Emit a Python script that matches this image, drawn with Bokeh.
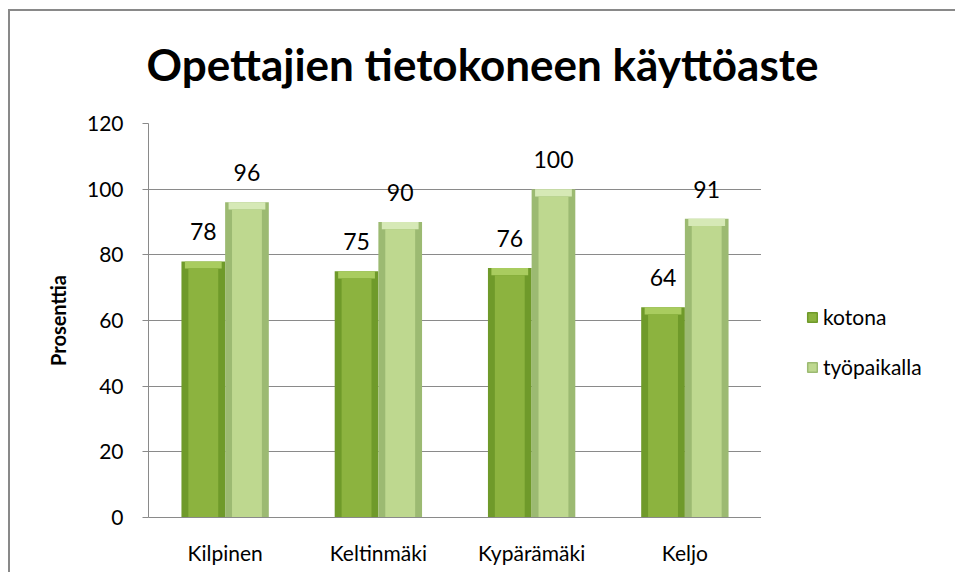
from bokeh.plotting import figure
from bokeh.layouts import row, column
from bokeh.models import ColumnDataSource, Legend, LegendItem, FactorRange, LabelSet, Label, FixedTicker
from bokeh.transform import dodge
from bokeh.core.properties import value
from bokeh.embed import file_html
from bokeh.resources import INLINE

categories = ["Kilpinen", "Keltinmäki", "Kypärämäki", "Keljo"]
kotona = [78, 75, 76, 64]
tyopaikalla = [96, 90, 100, 91]
series_names = ["kotona", "työpaikalla"]
y_ticks = [0, 20, 40, 60, 80, 100, 120]
title_text = "Opettajien tietokoneen käyttöaste"

FONT = "Lato"
BW = 0.285
BEV_X = 0.045
BEV_Y = 2.2

src = ColumnDataSource(dict(
    cat=categories,
    kotona=kotona,
    tyo=tyopaikalla,
    kotona_in=[v - BEV_Y for v in kotona],
    tyo_in=[v - BEV_Y for v in tyopaikalla],
    kotona_lbl=[str(v) for v in kotona],
    tyo_lbl=[str(v) for v in tyopaikalla],
))

# title strip
tf = figure(width=945, height=100, x_range=(0, 1), y_range=(0, 1),
            output_backend="svg", toolbar_location=None, min_border=0, outline_line_color=None)
tf.axis.visible = False
tf.grid.visible = False
tf.add_layout(Label(x=136, y=48, x_units="screen", y_units="screen", text=title_text,
                    text_font=FONT, text_font_size="44px", text_font_style="bold",
                    text_color="#000000", text_baseline="alphabetic", text_align="left"))

p = figure(frame_width=613, frame_height=394, x_range=FactorRange(*categories), y_range=(0, 120),
           output_backend="svg", toolbar_location=None,
           min_border_left=138, min_border_right=0, min_border_top=12, min_border_bottom=55)

series = [
    ("kotona", "kotona_in", -BW / 2, "#6f9a2a", "#a9cc5f", "#8cb33f"),
    ("tyo", "tyo_in", BW / 2, "#9cba72", "#d6e9b6", "#bed88f"),
]
legend_colors = []
for col, col_in, off, edge, top, face in series:
    x = dodge("cat", off, range=p.x_range)
    p.vbar(x=x, top=col, bottom=0, width=BW, source=src, fill_color=edge, line_color=None)
    p.vbar(x=x, top=col, bottom=col_in, width=BW - BEV_X, source=src, fill_color=top, line_color=None)
    p.vbar(x=x, top=col_in, bottom=0, width=BW - 2 * BEV_X, source=src, fill_color=face, line_color=None)
    legend_colors.append((edge, face))

for col, lbl, off in [("kotona", "kotona_lbl", -BW / 2), ("tyo", "tyo_lbl", BW / 2)]:
    ls = LabelSet(x=dodge("cat", off, range=p.x_range), y=col, text=lbl, source=src,
                  text_align="center", text_baseline="bottom", y_offset=21,
                  text_font=value(FONT), text_font_size="23px", text_color="#000000")
    p.add_layout(ls)

p.xgrid.grid_line_color = None
p.ygrid.grid_line_color = "#8a8a8a"
p.ygrid.grid_line_width = 1
p.yaxis.ticker = FixedTicker(ticks=y_ticks)
p.yaxis.axis_line_color = "#8a8a8a"
p.yaxis.major_tick_line_color = "#8a8a8a"
p.yaxis.major_tick_out = 6
p.yaxis.major_tick_in = 0
p.yaxis.minor_tick_line_color = None
p.yaxis.major_label_text_font = FONT
p.yaxis.major_label_text_font_size = "21px"
p.yaxis.major_label_text_color = "#000000"
p.yaxis.major_label_standoff = 19
p.yaxis.axis_label = "Prosenttia"
p.yaxis.axis_label_text_font = FONT
p.yaxis.axis_label_text_font_size = "20px"
p.yaxis.axis_label_text_font_style = "bold"
p.yaxis.axis_label_text_color = "#000000"
p.yaxis.axis_label_standoff = 14

p.xaxis.axis_line_color = "#8a8a8a"
p.xaxis.major_tick_line_color = None
p.xaxis.minor_tick_line_color = None
p.xaxis.major_label_text_font = FONT
p.xaxis.major_label_text_font_size = "21px"
p.xaxis.major_label_text_color = "#000000"
p.xaxis.major_label_standoff = 16

p.outline_line_color = None
p.background_fill_color = "white"
p.border_fill_color = "white"

# legend panel
lf = figure(width=194, height=461, x_range=(0, 1), y_range=(0, 1),
            output_backend="svg", toolbar_location=None,
            min_border=0, outline_line_color=None)
lf.axis.visible = False
lf.grid.visible = False
leg_src = ColumnDataSource(dict(x=[5], top=[0]))
items = []
for name, (edge, face) in zip(series_names, legend_colors):
    r = lf.vbar(x="x", top="top", width=0.1, source=leg_src, fill_color=face, line_color=edge, line_width=1.5)
    items.append(LegendItem(label=name, renderers=[r]))
legend = Legend(items=items, location=(45, 138), border_line_color=None, background_fill_alpha=0,
                label_text_font=FONT, label_text_font_size="21px", label_text_color="#000000",
                glyph_width=12, glyph_height=12, label_height=12, spacing=25, padding=0,
                label_standoff=5, margin=0)
lf.add_layout(legend, "center")

layout = column(tf, row(p, lf), styles={"margin-left": "8px", "margin-top": "9px",
                                        "border-left": "2px solid #898989", "border-top": "2px solid #898989"})

open("out.html", "w").write(file_html(layout, INLINE))
